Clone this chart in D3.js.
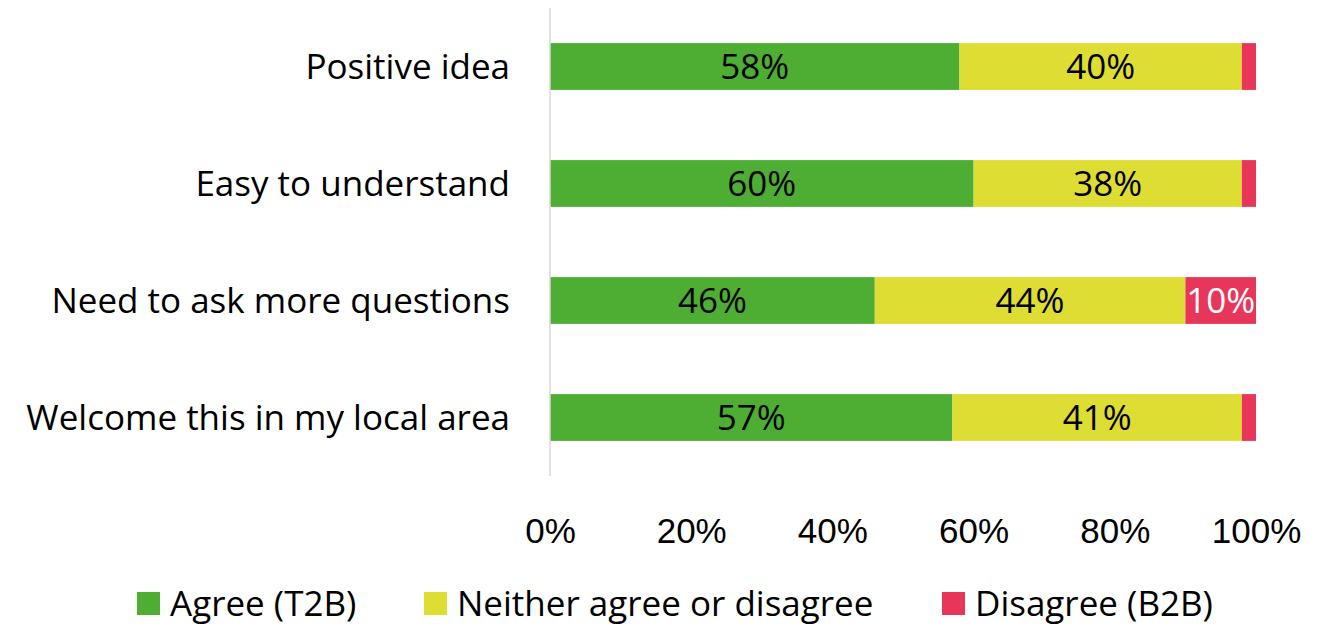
<!DOCTYPE html>
<html>
<head>
<meta charset="utf-8">
<script src="https://cdn.jsdelivr.net/npm/d3@7"></script>
<style>
  html, body { margin: 0; padding: 0; background: #fff; }
  svg { display: block; font-family: "Open Sans", "Noto Sans", sans-serif; }
</style>
</head>
<body>
<svg id="chart" width="1327" height="625"></svg>
<script>
// Survey statements and share of responses per answer group (percent)
const categories = ["Positive idea", "Easy to understand", "Need to ask more questions", "Welcome this in my local area"];
const agree    = [58, 60, 46, 57];
const neither  = [40, 38, 44, 41];
const disagree = [2, 2, 10, 2];
const seriesNames = ["Agree (T2B)", "Neither agree or disagree", "Disagree (B2B)"];
const seriesColors = ["#4EAD33", "#DDDD33", "#E8365A"];
const labelColors = ["#000", "#000", "#fff"];
const tickValues = [0, 20, 40, 60, 80, 100];
const minLabelValue = 5;

const svg = d3.select("#chart");
const plotLeft = 550, plotRight = 1256, plotTop = 8, plotBottom = 476;

const x = d3.scaleLinear().domain([0, 100]).range([plotLeft, plotRight]);
const y = d3.scaleBand().domain(categories).range([plotTop, plotBottom]).paddingInner(0.6).paddingOuter(0.3);

const rows = categories.map((c, i) => ({ category: c, v0: agree[i], v1: neither[i], v2: disagree[i] }));
const stack = d3.stack().keys(["v0", "v1", "v2"]);
const layers = stack(rows);

const fontSize = 35;

layers.forEach((layer, k) => {
  const g = svg.append("g");
  g.selectAll("rect").data(layer).join("rect")
    .attr("x", d => x(d[0]))
    .attr("y", d => y(d.data.category))
    .attr("width", d => x(d[1]) - x(d[0]))
    .attr("height", y.bandwidth())
    .attr("fill", seriesColors[k]);
  g.selectAll("text").data(layer.filter(d => d[1] - d[0] >= minLabelValue)).join("text")
    .attr("x", d => (x(d[0]) + x(d[1])) / 2)
    .attr("y", d => y(d.data.category) + y.bandwidth() / 2)
    .attr("dy", "0.36em")
    .attr("text-anchor", "middle")
    .attr("font-size", fontSize)
    .attr("fill", labelColors[k])
    .text(d => (d[1] - d[0]) + "%");
});

// Category axis: a plain light rule with the statements to its left
svg.append("line")
  .attr("x1", plotLeft).attr("x2", plotLeft)
  .attr("y1", plotTop).attr("y2", plotBottom)
  .attr("stroke", "#d9d9d9").attr("stroke-width", 1.5);

svg.append("g").selectAll("text").data(categories).join("text")
  .attr("x", plotLeft - 40)
  .attr("y", d => y(d) + y.bandwidth() / 2)
  .attr("dy", "0.36em")
  .attr("text-anchor", "end")
  .attr("font-size", fontSize)
  .attr("fill", "#000")
  .text(d => d);

// Value axis labels only
const xAxis = d3.axisBottom(x).tickValues(tickValues).tickFormat(d => d + "%").tickSize(0).tickPadding(0);
const axisG = svg.append("g").attr("transform", `translate(0, 530)`).call(xAxis);
axisG.select(".domain").remove();
axisG.selectAll("text")
  .attr("font-family", "inherit")
  .attr("font-size", fontSize)
  .attr("fill", "#000")
  .attr("dy", "0.36em")
  .attr("y", 0);

// Legend
const legendX = [137, 424, 942];
const legend = svg.append("g");
seriesNames.forEach((name, i) => {
  legend.append("rect")
    .attr("x", legendX[i]).attr("y", 592)
    .attr("width", 23).attr("height", 23)
    .attr("fill", seriesColors[i]);
  legend.append("text")
    .attr("x", legendX[i] + 33).attr("y", 603.5)
    .attr("dy", "0.36em")
    .attr("font-size", fontSize)
    .attr("fill", "#000")
    .text(name);
});
</script>
</body>
</html>
